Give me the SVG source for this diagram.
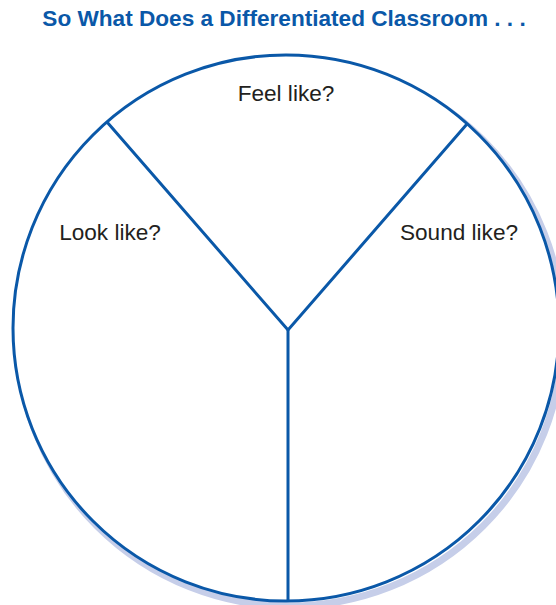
<svg xmlns="http://www.w3.org/2000/svg" width="556" height="605" viewBox="0 0 556 605">
<style>
.title{font-family:"Liberation Sans",Arial,sans-serif;font-weight:bold;font-size:22.6px;fill:#0a58a8}
.lbl{font-family:"Liberation Sans",Arial,sans-serif;font-size:22.6px;fill:#231f20}
.ln{stroke:#0a58a8;stroke-width:3;fill:none;stroke-linecap:butt}
</style>
<rect width="556" height="605" fill="#fff"/>
<text class="title" x="284" y="26" text-anchor="middle">So What Does a Differentiated Classroom . . .</text>
<g id="circle">
<circle cx="290" cy="333" r="273" fill="none" stroke="#c6cee9" stroke-width="7"/>
<circle cx="286" cy="328" r="273" fill="#fff" stroke="#0a58a8" stroke-width="3"/>
</g>
<g id="connectors">
<polyline class="ln" points="107,122 288,330 467,124"/>
<line class="ln" x1="288" y1="330" x2="288" y2="602"/>
</g>
<g id="feel"><text class="lbl" x="286" y="101" text-anchor="middle">Feel like?</text></g>
<g id="look"><text class="lbl" x="110" y="240" text-anchor="middle">Look like?</text></g>
<g id="sound"><text class="lbl" x="459" y="240" text-anchor="middle">Sound like?</text></g>
</svg>
